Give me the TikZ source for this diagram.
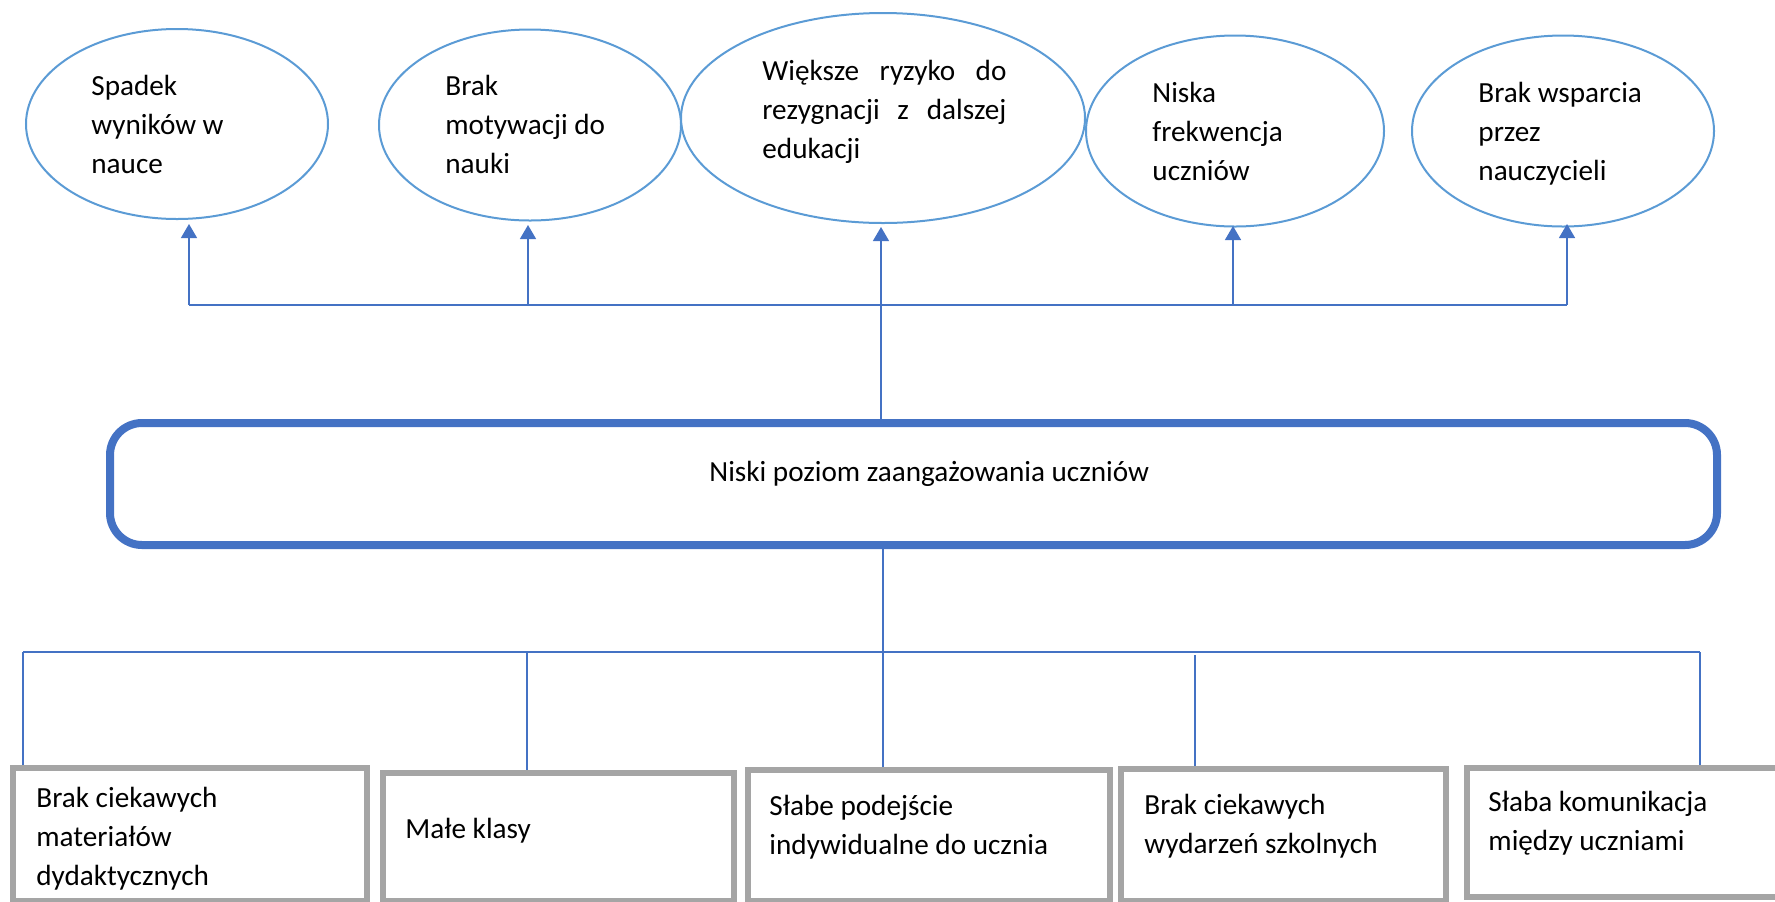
\documentclass[tikz,border=0pt]{standalone}
\usepackage{fontspec}
\setmainfont{Carlito}
\usetikzlibrary{shapes.geometric,arrows.meta}
\definecolor{ovalblue}{HTML}{5B9BD5}
\definecolor{linkblue}{HTML}{4472C4}
\definecolor{boxgray}{HTML}{A5A5A5}

\begin{document}
\begin{tikzpicture}[x=0.5pt,y=-0.5pt,
  oval/.style={draw=ovalblue,line width=1pt,ellipse,inner sep=0pt},
  core/.style={draw=linkblue,line width=4pt,rounded corners=16pt,inner sep=0pt},
  cause/.style={draw=boxgray,line width=2.75pt,inner sep=0pt},
  link/.style={draw=linkblue,line width=0.7pt},
  tip/.style={link,-{Triangle[width=8pt,length=7pt]}},
  lbl/.style={anchor=base west,align=left,inner sep=0pt,font=\fontsize{14.6pt}{19.3pt}\selectfont}]
\useasboundingbox (0,0) rectangle (1775,901);
\clip (0,0) rectangle (1775,901);

% skutki
\node (e1) at (177,124) [oval,minimum width=151pt,minimum height=95pt] {};
\node (e2) at (530,125) [oval,minimum width=151pt,minimum height=95.5pt] {};
\node (e3) at (883,118) [oval,minimum width=202pt,minimum height=105pt] {};
\node (e4) at (1235,131) [oval,minimum width=149pt,minimum height=95.5pt] {};
\node (e5) at (1563,131) [oval,minimum width=151pt,minimum height=95.5pt] {};

\node (t1) at (91,173) [lbl] {Spadek\\wyników w\\nauce};
\node (t2) at (445,173) [lbl] {Brak\\motywacji do\\nauki};
\node (t3) at (762,158) [lbl] {\makebox[122pt][s]{Większe ryzyko do}\\\makebox[122pt][s]{rezygnacji z dalszej}\\edukacji};
\node (t4) at (1152,180) [lbl] {Niska\\frekwencja\\uczniów};
\node (t5) at (1478,180) [lbl] {Brak wsparcia\\przez\\nauczycieli};

% problem
\node (core) at (913.5,484) [core,minimum width=803.5pt,minimum height=61pt] {};
\node (tc) at (709,481) [lbl] {Niski poziom zaangażowania uczniów};

% przyczyny
\node (b1) at (190,834.5) [cause,minimum width=177pt,minimum height=66.5pt] {};
\node (b2) at (558.5,837) [cause,minimum width=175.5pt,minimum height=64pt] {};
\node (b3) at (929,835.5) [cause,minimum width=181pt,minimum height=65.5pt] {};
\node (b4) at (1283.5,835) [cause,minimum width=162.5pt,minimum height=66pt] {};
\node (b5) at (1628.5,832.5) [cause,minimum width=161.5pt,minimum height=64.5pt] {};

\node (s1) at (36,885) [lbl] {Brak ciekawych\\materiałów\\dydaktycznych};
\node (s2) at (405,838) [lbl] {Małe klasy};
\node (s3) at (769,854) [lbl] {Słabe podejście\\indywidualne do ucznia};
\node (s4) at (1144,853) [lbl] {Brak ciekawych\\wydarzeń szkolnych};
\node (s5) at (1488,850) [lbl] {Słaba komunikacja\\między uczniami};

% strzalki w gore
\coordinate (hL) at (189,305);
\coordinate (hR) at (1567,305);
\coordinate (a1) at (189,224);
\coordinate (a2) at (528,225);
\coordinate (a3) at (881,227);
\coordinate (a4) at (1233,226);
\coordinate (a5) at (1567,224);
\draw[link] (hL) -- (hR);
\draw[tip] (hL) -- (a1);
\draw[tip] (a2 |- hL) -- (a2);
\draw[tip] (core.north -| a3) -- (a3);
\draw[tip] (a4 |- hL) -- (a4);
\draw[tip] (hR) -- (a5);

% linie w dol
\coordinate (bL) at (23,652);
\coordinate (bR) at (1700,652);
\coordinate (d2) at (527,652);
\coordinate (d3) at (883,652);
\coordinate (d4) at (1195,655);
\draw[link] (bL) -- (bR);
\draw[link] (bL) -- (bL |- b1.north);
\draw[link] (d2) -- (d2 |- b2.north);
\draw[link] (core.south -| d3) -- (d3 |- b3.north);
\draw[link] (d4) -- (d4 |- b4.north);
\draw[link] (bR) -- (bR |- b5.north);
\end{tikzpicture}
\end{document}
